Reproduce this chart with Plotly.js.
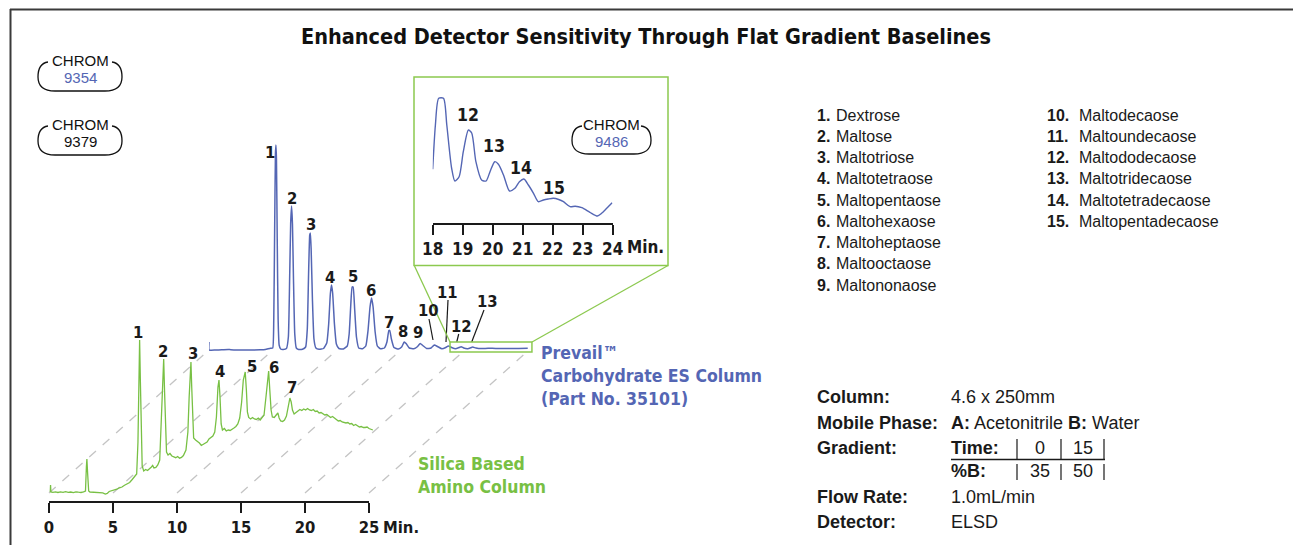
<!DOCTYPE html>
<html>
<head>
<meta charset="utf-8">
<script src="https://cdn.plot.ly/plotly-3.0.1.min.js"></script>
<style>html,body{margin:0;padding:0;background:#fff;}#chart{width:1293px;height:545px;}</style>
</head>
<body>
<div id="chart"></div>
<script>
// ---------------- DATA ----------------
// Silica based amino column (green), minutes vs detector response
const greenTime = [0.10,0.12,0.15,0.3,0.5,0.7,0.9,1.1,1.3,1.5,1.7,1.9,2.1,2.3,2.5,2.7,2.85,2.92,2.96,3.02,3.1,3.2,3.4,3.6,3.8,4.0,4.2,4.4,4.55,4.7,4.9,5.1,5.3,5.5,5.7,5.9,6.1,6.3,6.5,6.7,6.85,6.95,7.02,7.08,7.14,7.2,7.28,7.4,7.55,7.7,7.85,8.0,8.1,8.2,8.35,8.5,8.65,8.78,8.88,8.96,9.03,9.1,9.18,9.3,9.45,9.6,9.75,9.9,10.05,10.2,10.35,10.5,10.7,10.85,10.95,11.05,11.09,11.15,11.22,11.3,11.45,11.6,11.75,11.9,12.05,12.2,12.35,12.5,12.65,12.8,12.95,13.08,13.2,13.28,13.36,13.45,13.55,13.7,13.85,14.0,14.15,14.3,14.45,14.6,14.75,14.9,15.05,15.18,15.33,15.42,15.5,15.6,15.75,15.9,16.05,16.2,16.35,16.5,16.65,16.8,16.95,17.08,17.16,17.25,17.35,17.45,17.6,17.75,17.88,17.98,18.1,18.25,18.4,18.55,18.7,18.82,18.92,19.02,19.15,19.3,19.45,19.6,19.75,19.9,20.05,20.2,20.35,20.5,20.65,20.8,20.95,21.1,21.25,21.4,21.55,21.7,21.85,22.0,22.15,22.3,22.45,22.6,22.75,22.9,23.05,23.2,23.35,23.5,23.65,23.8,23.95,24.1,24.25,24.4,24.55,24.7,24.85,25.0,25.15,25.3];
const greenSignal = [10,17,10,9.6,10.2,9.5,10.1,9.6,10.3,9.7,10.0,9.4,10.2,9.8,9.5,10.1,11,35,43,28,11,10,9.8,10.3,9.6,9.9,9.2,8.0,8.6,10.5,11.2,12.5,12.8,14.2,15.0,16.8,18.3,19.5,22.5,25.8,28,60,120,162,120,70,36,31,32.5,31.5,33,35,36.5,34,34.5,37,42,80,125,143,110,70,50,47,48.5,46,45.5,44.3,45.5,43.8,44.6,46.5,52,70,105,138,140,115,80,64,62,60.5,59,56.5,57.8,58.5,60,63,64.5,66,70,85,115,122,105,78,72,73.5,71,72,71.5,72.5,74,75.5,78,84,100,122,130,112,90,84.5,83,84.5,83,82.5,83.8,82,84,87,105,126,131,112,92,85,84.5,87,89,84,81,80.5,82,86,95,104,100,92,88,89.5,91,92.5,91.5,93,92,93.5,92,91.5,92.5,90.5,91,89,89.5,88,87,87.5,85.5,84.5,85.5,83.5,82.5,81,81.5,80,79.5,79,79.5,78,78.5,76.5,77.5,76,75,75.5,74.5,74.5,75,73.5,73,72];

// Prevail Carbohydrate ES column (blue)
const blueTime = [0.00,0.01,0.5,1.0,1.5,1.7,2.2,2.8,3.4,4.0,4.4,4.8,4.98,5.06,5.13,5.19,5.23,5.27,5.33,5.4,5.48,5.6,5.8,6.05,6.2,6.3,6.38,6.45,6.52,6.6,6.7,6.82,7.0,7.3,7.55,7.68,7.78,7.87,7.92,7.98,8.08,8.2,8.35,8.6,8.95,9.2,9.35,9.48,9.57,9.66,9.8,9.95,10.15,10.5,10.8,10.95,11.08,11.18,11.26,11.38,11.52,11.7,12.0,12.25,12.42,12.58,12.7,12.82,12.98,13.15,13.4,13.7,13.9,14.05,14.12,14.25,14.45,14.8,15.05,15.25,15.4,15.65,16.0,16.3,16.5,16.7,17.0,17.35,17.6,17.85,18.2,18.5,18.7,18.95,19.25,19.55,19.7,19.9,20.2,20.45,20.6,20.85,21.3,21.8,22.4,23.0,23.6,24.2,24.9];
const blueSignal = [17,9,9,9.2,9.6,9.3,9,9.1,9,9.2,9.6,10.8,11,40,130,205,214,200,120,40,14,10,9.6,10.5,22,80,135,153,135,80,25,11,9.6,9.8,12,30,85,124,126,110,60,20,11,9.7,10.5,16,35,65,74,66,35,15,10.5,10,13,25,55,72,72,50,22,11,10.3,13,28,52,61,52,27,13,10.2,11,17,28.5,28.5,20,11.5,10,12,17,15.5,11,10.2,12.5,15.5,13.5,10.5,11,14,12.5,10.2,11.5,13,11.5,10.2,11.5,12.3,11,10.3,11.2,12,11,10.4,10.8,10.5,10.6,10.4,10.6,10.8];

// Inset: blue trace 18-24 min enlarged
const insetTime = [18.0,18.09,18.2,18.36,18.47,18.63,18.74,18.88,19.02,19.19,19.3,19.44,19.63,19.78,19.91,20.07,20.19,20.36,20.56,20.74,20.89,21.04,21.19,21.36,21.52,21.69,21.85,22.02,22.2,22.36,22.58,22.75,22.97,23.24,23.49,23.63,23.8,23.98];
const insetSignal = [53.7,98,124.7,124.7,98,55,42,46.3,71.3,93,90,61.3,43,42,51.3,61.3,58.7,48,32,34.7,41.3,44,38,29.7,21.3,23,24,24.7,23.5,21.3,16.3,16.8,15.3,10.7,7,9.7,14.7,20.3];

const mainTicks = [0,5,10,15,20,25];
const mainTickText = ['0','5','10','15','20','25'];
const insetTicks = [18,19,20,21,22,23,24];
const insetTickText = ['18','19','20','21','22','23','24'];

const compounds = ['Dextrose','Maltose','Maltotriose','Maltotetraose','Maltopentaose','Maltohexaose','Maltoheptaose','Maltooctaose','Maltononaose','Maltodecaose','Maltoundecaose','Maltododecaose','Maltotridecaose','Maltotetradecaose','Maltopentadecaose'];
const greenPeakLabels = ['1','2','3','4','5','6','7'];
const bluePeakLabels = ['1','2','3','4','5','6','7','8','9','10','11','12','13'];
const insetPeakLabels = ['12','13','14','15'];

const titleText = 'Enhanced Detector Sensitivity Through Flat Gradient Baselines';
const conditionLabels = ['Column:','Mobile Phase:','Gradient:','','Flow Rate:','Detector:'];
const conditionValues = ['4.6 x 250mm','<b>A:</b> Acetonitrile <b>B:</b> Water','','','1.0mL/min','ELSD'];
const gradientTime = ['0','15'];
const gradientB = ['35','50'];
const chromIds = ['9354','9379','9486'];

// ---------------- LAYOUT HELPERS ----------------
const W = 1293, H = 545;
const X = px => px / W;
const Y = py => 1 - py / H;
const NARROW = '"Liberation Sans Narrow", "Arial Narrow", "DejaVu Sans Condensed", sans-serif';
const SANS = '"Liberation Sans", Arial, Helvetica, sans-serif';
const BLUE = '#5466b4';
const GREEN = '#78c044';
const BOXGREEN = '#8cc94f';
const DARK = '#1a1a1a';

const PPM = 12.8;          // pixels per minute (main)
const G_X0 = 49, G_Y0 = 502;   // green axes origin
const B_X0 = 209, B_Y0 = 359;  // blue axes origin (offset for 3D look)
const XMAX = 25.5;

const annotations = [];
const shapes = [];
function ann(text, px, py, o) {
  o = o || {};
  annotations.push(Object.assign({
    text: text, x: X(px), y: Y(py), xref: 'paper', yref: 'paper',
    showarrow: false, xanchor: 'center', yanchor: 'middle', borderpad: 0,
    font: {family: o.family || NARROW, size: o.size || 16, color: o.color || DARK}
  }, o.extra || {}));
}
function line(x0, y0, x1, y1, color, width, dash, layer) {
  shapes.push({type: 'line', xref: 'paper', yref: 'paper', x0: X(x0), y0: Y(y0), x1: X(x1), y1: Y(y1),
    line: {color: color, width: width, dash: dash || 'solid'}, layer: layer || 'above'});
}
function pt(px, py) { return X(px).toFixed(5) + ',' + Y(py).toFixed(5); }
function badge(L, R, T, B) {
  const M = (T + B) / 2 + 1;
  const p = 'M' + pt(L + 10, T + 1) +
    ' C' + pt(L + 3, T + 2) + ' ' + pt(L, T + 7) + ' ' + pt(L, M) +
    ' C' + pt(L, B - 5) + ' ' + pt(L + 6, B) + ' ' + pt(L + 17, B) +
    ' L' + pt(R - 17, B) +
    ' C' + pt(R - 6, B) + ' ' + pt(R, B - 5) + ' ' + pt(R, M) +
    ' C' + pt(R, T + 7) + ' ' + pt(R - 3, T + 2) + ' ' + pt(R - 10, T + 1);
  shapes.push({type: 'path', xref: 'paper', yref: 'paper', path: p, line: {color: '#111', width: 1.3}});
}

// ---------------- FRAME & TITLE ----------------
line(10, 9.5, 1293, 9.5, '#3a3a3a', 2);
line(10.5, 9, 10.5, 545, '#3a3a3a', 2);
ann('<b>' + titleText + '</b>', 646, 36, {size: 21.5, color: '#111'});

// ---------------- CHROM BADGES ----------------
const badgeBoxes = [[38,122,61,91],[38,122,125,155],[572,651,125,154]];
const badgeTextPos = [[80,61,77.5],[80,125,141.5],[611,125,141.5]];
const badgeColors = [BLUE, '#111', BLUE];
badgeBoxes.forEach((b, i) => {
  badge(b[0], b[1], b[2], b[3]);
  const t = badgeTextPos[i];
  ann('CHROM', t[0], t[1], {family: SANS, size: 15, color: '#111'});
  ann(chromIds[i], t[0], t[2], {family: SANS, size: 15, color: badgeColors[i]});
});

// ---------------- DIAGONAL DASHED GUIDES ----------------
mainTicks.forEach(t => {
  line(G_X0 + PPM * t, 493, B_X0 + PPM * t, 350, '#c4c4c4', 1.3, 'dash', 'below');
});
// main axis line 0..25
shapes.push({type: 'line', xref: 'x', yref: 'paper', x0: 0, x1: 25, y0: Y(G_Y0), y1: Y(G_Y0), line: {color: DARK, width: 2}});
ann('<b>Min.</b>', 382, 527, {size: 16.5, extra: {xanchor: 'left'}});

// ---------------- PEAK LABELS ----------------
const greenLabelPos = [[138,332],[163,351],[193,353],[220,371],[252,366],[274,367],[292,387]];
greenPeakLabels.forEach((s, i) => ann('<b>' + s + '</b>', greenLabelPos[i][0], greenLabelPos[i][1], {size: 16.5}));
const blueLabelPos = [[270,152],[292,198],[311,224],[330,277],[353,276],[371,290],[389,322],[403,331],[418,332],[428,310],[447,292],[461,326],[487,301]];
bluePeakLabels.forEach((s, i) => ann('<b>' + s + '</b>', blueLabelPos[i][0], blueLabelPos[i][1], {size: 16.5}));
line(429, 319, 433, 340, DARK, 1.2);
line(448, 300, 446, 342, DARK, 1.2);
line(458.7, 334, 456.7, 342, DARK, 1.2);
line(484, 310, 471.7, 342, DARK, 1.2);

// ---------------- INSET ----------------
shapes.push({type: 'rect', xref: 'paper', yref: 'paper', x0: X(414), x1: X(668), y0: Y(265.5), y1: Y(77), line: {color: BOXGREEN, width: 1.5}});
shapes.push({type: 'rect', xref: 'x2', yref: 'y2', x0: 18.83, x1: 25.23, y0: 7, y1: 17, line: {color: BOXGREEN, width: 1.5}});
line(414.5, 266, 450, 342, BOXGREEN, 1.3);
line(668, 265.5, 532, 342, BOXGREEN, 1.3);
const insetLabelPos = [[468,115],[494,146],[521,168],[554,188]];
insetPeakLabels.forEach((s, i) => ann('<b>' + s + '</b>', insetLabelPos[i][0], insetLabelPos[i][1], {size: 17.5}));
ann('<b>Min.</b>', 626, 247, {size: 17, extra: {xanchor: 'left'}});

// ---------------- COLUMN LABELS ----------------
['<b>Prevail™</b>', '<b>Carbohydrate ES Column</b>', '<b>(Part No. 35101)</b>'].forEach((s, i) =>
  ann(s, 540, 353 + i * 23.2, {size: 17.5, color: BLUE, extra: {xanchor: 'left'}}));
['<b>Silica Based</b>', '<b>Amino Column</b>'].forEach((s, i) =>
  ann(s, 417, 464 + i * 23.2, {size: 17.5, color: GREEN, extra: {xanchor: 'left'}}));

// ---------------- COMPOUND LIST ----------------
compounds.forEach((c, i) => {
  const col = i < 9 ? 0 : 1;
  const row = i < 9 ? i : i - 9;
  const y = 115 + row * 21.25;
  const nx = col === 0 ? 816 : 1046;
  const tx = col === 0 ? 835 : 1078;
  ann('<b>' + (i + 1) + '.</b>', nx, y, {family: SANS, size: 16, extra: {xanchor: 'left'}});
  ann(c, tx, y, {family: SANS, size: 16, extra: {xanchor: 'left'}});
});

// ---------------- CONDITIONS TABLE ----------------
const rowY = [397, 423, 448, 471, 497, 522];
conditionLabels.forEach((s, i) => { if (s) ann('<b>' + s + '</b>', 816, rowY[i], {family: SANS, size: 18, extra: {xanchor: 'left'}}); });
conditionValues.forEach((s, i) => { if (s) ann(s, 950, rowY[i], {family: SANS, size: 18, extra: {xanchor: 'left'}}); });
ann('<b>Time:</b>', 950, rowY[2], {family: SANS, size: 18, extra: {xanchor: 'left'}});
ann('<b>%B:</b>', 950, rowY[3], {family: SANS, size: 18, extra: {xanchor: 'left'}});
const gradCols = [1040, 1083];
gradientTime.forEach((s, i) => ann(s, gradCols[i], rowY[2], {family: SANS, size: 18}));
gradientB.forEach((s, i) => ann(s, gradCols[i], rowY[3], {family: SANS, size: 18}));
line(951, 459.5, 1105, 459.5, DARK, 1.3);
[1017, 1061, 1104].forEach(x => { line(x, 439, x, 459, DARK, 1.2); line(x, 464, x, 480, DARK, 1.2); });

// ---------------- TRACES ----------------
const traces = [
  {x: greenTime, y: greenSignal, xaxis: 'x', yaxis: 'y', mode: 'lines', line: {color: GREEN, width: 1.3}, hoverinfo: 'skip'},
  {x: blueTime, y: blueSignal, xaxis: 'x2', yaxis: 'y2', mode: 'lines', line: {color: BLUE, width: 1.5, shape: 'spline', smoothing: 0.4}, hoverinfo: 'skip'},
  {x: insetTime, y: insetSignal, xaxis: 'x3', yaxis: 'y3', mode: 'lines', line: {color: BLUE, width: 1.4, shape: 'spline', smoothing: 0.7}, hoverinfo: 'skip'}
];

const tickFontMain = {family: NARROW, size: 16.5, color: DARK, weight: 'bold'};
const layout = {
  width: W, height: H, margin: {l: 0, r: 0, t: 0, b: 0},
  paper_bgcolor: '#fff', plot_bgcolor: 'rgba(0,0,0,0)', showlegend: false,
  xaxis: {domain: [X(G_X0), X(G_X0 + PPM * XMAX)], range: [0, XMAX], anchor: 'y',
    tickmode: 'array', tickvals: mainTicks, ticktext: mainTickText, ticks: 'outside', ticklen: 10, tickwidth: 2, tickcolor: DARK,
    showline: false, showgrid: false, zeroline: false, tickfont: tickFontMain, fixedrange: true},
  yaxis: {domain: [Y(G_Y0), Y(G_Y0 - 200)], range: [0, 200], visible: false, fixedrange: true},
  xaxis2: {domain: [X(B_X0), X(B_X0 + PPM * XMAX)], range: [0, XMAX], anchor: 'y2', visible: false, fixedrange: true},
  yaxis2: {domain: [Y(B_Y0), Y(B_Y0 - 225)], range: [0, 225], anchor: 'x2', visible: false, fixedrange: true},
  xaxis3: {domain: [X(432.7), X(612.7)], range: [18, 24], anchor: 'y3',
    tickmode: 'array', tickvals: insetTicks, ticktext: insetTickText, ticks: 'outside', ticklen: 10, tickwidth: 2, tickcolor: DARK,
    showline: true, linewidth: 2, linecolor: DARK, showgrid: false, zeroline: false,
    tickfont: {family: NARROW, size: 17, color: DARK, weight: 'bold'}, fixedrange: true},
  yaxis3: {domain: [Y(223), Y(93)], range: [0, 130], anchor: 'x3', visible: false, fixedrange: true},
  shapes: shapes,
  annotations: annotations
};

Plotly.newPlot('chart', traces, layout, {staticPlot: true, displayModeBar: false});
</script>
</body>
</html>
